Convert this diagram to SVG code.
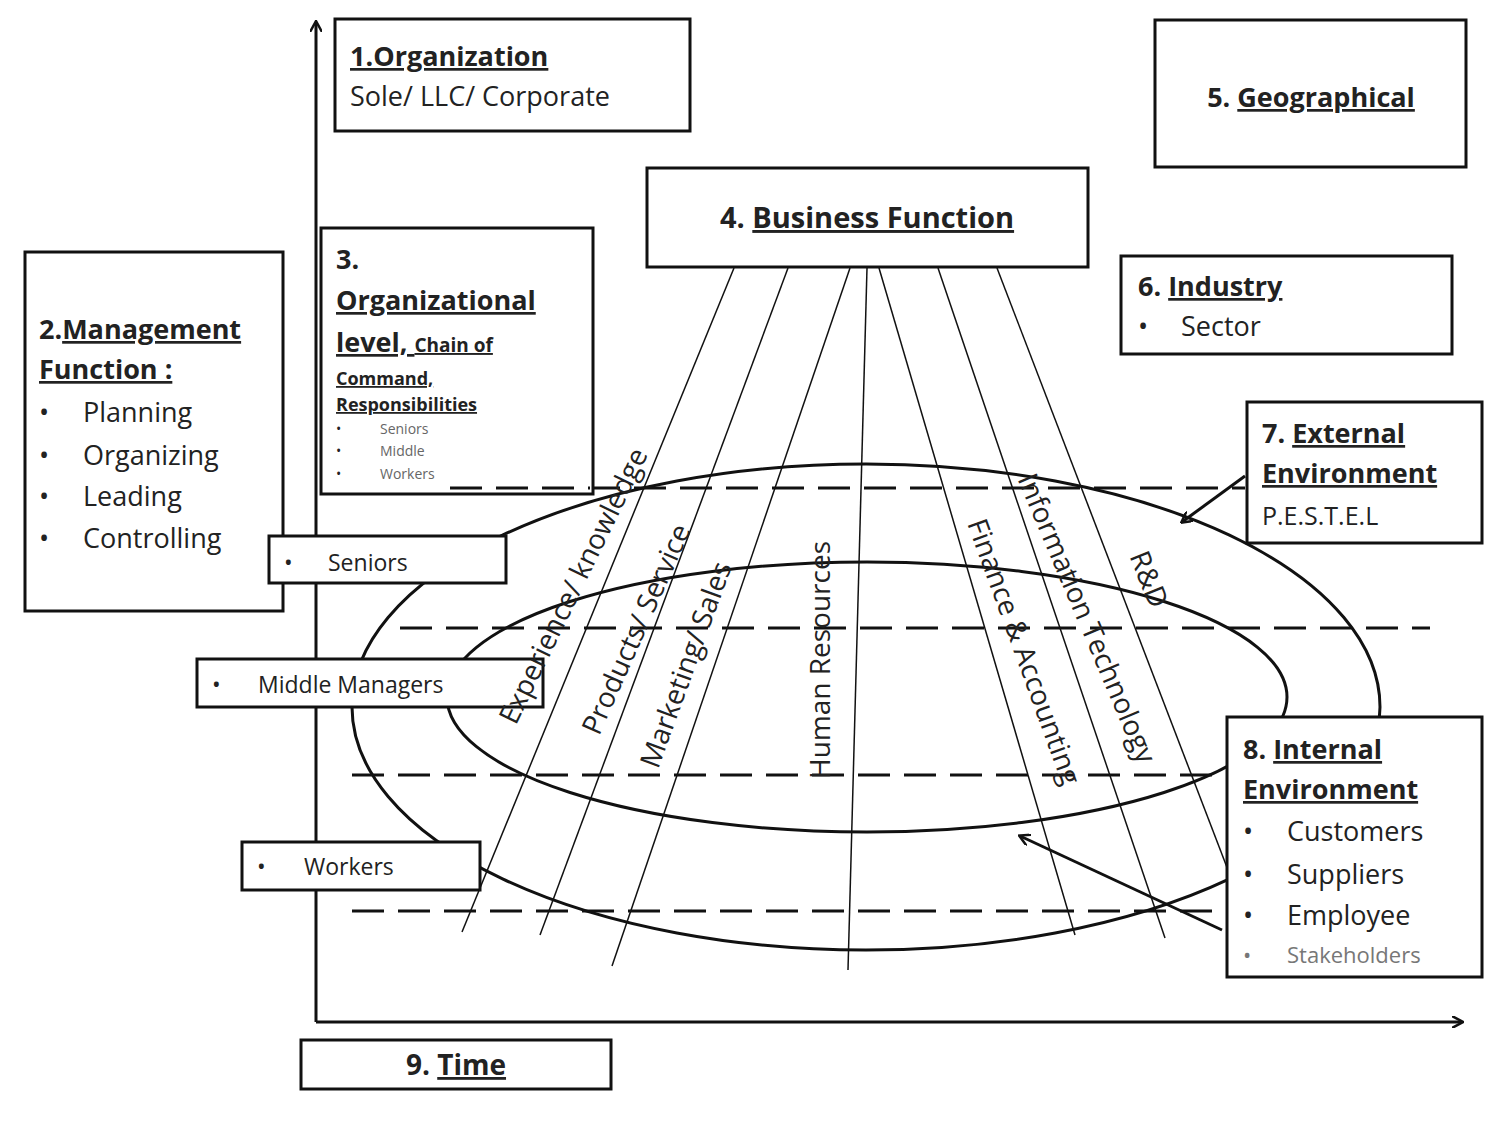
<svg xmlns="http://www.w3.org/2000/svg" width="1508" height="1135" viewBox="0 0 1508 1135">
<defs>
<marker id="ah" markerWidth="12" markerHeight="12" refX="10" refY="6" orient="auto" markerUnits="userSpaceOnUse"><path d="M0,0 L11,6 L0,12" fill="none" stroke="#111" stroke-width="2.5"/></marker>
<style>
text{font-family:"Open Sans","Liberation Sans",sans-serif;fill:#222}
.b{font-weight:bold}
.u{text-decoration:underline}
.box{fill:#fff;stroke:#111;stroke-width:3}
.ln{stroke:#111;stroke-width:1.5;fill:none}
.ds{stroke:#111;stroke-width:3;stroke-dasharray:32,14;fill:none}
.el{stroke:#111;stroke-width:3;fill:none}
.rt{font-size:28px}
</style>
</defs>
<rect width="1508" height="1135" fill="#fff"/>
<g id="connectors">
<line x1="316" y1="1022" x2="316" y2="22" stroke="#111" stroke-width="3" marker-end="url(#ah)"/>
<line x1="316" y1="1022" x2="1462" y2="1022" stroke="#111" stroke-width="3" marker-end="url(#ah)"/>
<ellipse class="el" cx="866" cy="707" rx="514" ry="243"/>
<ellipse class="el" cx="867" cy="697" rx="420" ry="135"/>
<line class="ln" x1="734" y1="268" x2="462" y2="932"/>
<line class="ln" x1="788" y1="268" x2="540" y2="935"/>
<line class="ln" x1="850" y1="268" x2="612" y2="966"/>
<line class="ln" x1="867" y1="268" x2="848" y2="970"/>
<line class="ln" x1="879" y1="268" x2="1075" y2="935"/>
<line class="ln" x1="938" y1="268" x2="1165" y2="938"/>
<line class="ln" x1="997" y1="268" x2="1228" y2="870"/>
<line class="ds" x1="450" y1="488" x2="1245" y2="488"/>
<line class="ds" x1="400" y1="628" x2="1430" y2="628"/>
<line class="ds" x1="352" y1="775" x2="1225" y2="775"/>
<line class="ds" x1="352" y1="911" x2="1225" y2="911"/>
<line x1="1245" y1="476" x2="1182" y2="522" stroke="#111" stroke-width="3" marker-end="url(#ah)"/>
<line x1="1222" y1="930" x2="1020" y2="836" stroke="#111" stroke-width="3" marker-end="url(#ah)"/>
</g>
<g id="n1"><rect class="box" x="335" y="19" width="355" height="112"/>
<text x="350" y="66" font-size="27" class="b u">1.Organization</text>
<text x="350" y="106" font-size="27">Sole/ LLC/ Corporate</text></g>
<g id="n5"><rect class="box" x="1155" y="20" width="311" height="147"/>
<text x="1311" y="107" font-size="27" text-anchor="middle" class="b">5. <tspan class="u">Geographical</tspan></text></g>
<g id="n4"><rect class="box" x="647" y="168" width="441" height="99"/>
<text x="867" y="228" font-size="29" text-anchor="middle" class="b">4. <tspan class="u">Business Function</tspan></text></g>
<g id="n6"><rect class="box" x="1121" y="256" width="331" height="98"/>
<text x="1138" y="296" font-size="27" class="b">6. <tspan class="u">Industry</tspan></text>
<text x="1138" y="336" font-size="27">•</text><text x="1181" y="336" font-size="27">Sector</text></g>
<g id="n7"><rect class="box" x="1247" y="402" width="235" height="141"/>
<text x="1262" y="443" font-size="27" class="b">7. <tspan class="u">External</tspan></text>
<text x="1262" y="483" font-size="27" class="b u">Environment</text>
<text x="1262" y="525" font-size="25">P.E.S.T.E.L</text></g>
<g id="n8"><rect class="box" x="1227" y="717" width="255" height="260"/>
<text x="1243" y="759" font-size="27" class="b">8. <tspan class="u">Internal</tspan></text>
<text x="1243" y="799" font-size="27" class="b u">Environment</text>
<text x="1243" y="841" font-size="27">•</text><text x="1287" y="841" font-size="27">Customers</text>
<text x="1243" y="884" font-size="27">•</text><text x="1287" y="884" font-size="27">Suppliers</text>
<text x="1243" y="925" font-size="27">•</text><text x="1287" y="925" font-size="27">Employee</text>
<text x="1243" y="963" font-size="22" style="fill:#777">•</text><text x="1287" y="963" font-size="22" style="fill:#777">Stakeholders</text></g>
<g id="n2"><rect class="box" x="25" y="252" width="258" height="359"/>
<text x="39" y="339" font-size="27" class="b">2.<tspan class="u">Management</tspan></text>
<text x="39" y="379" font-size="27" class="b u">Function :</text>
<text x="39" y="422" font-size="27">•</text><text x="83" y="422" font-size="27">Planning</text>
<text x="39" y="465" font-size="27">•</text><text x="83" y="465" font-size="27">Organizing</text>
<text x="39" y="506" font-size="27">•</text><text x="83" y="506" font-size="27">Leading</text>
<text x="39" y="548" font-size="27">•</text><text x="83" y="548" font-size="27">Controlling</text></g>
<g id="n3"><rect class="box" x="321" y="228" width="272" height="266"/>
<text x="336" y="269" font-size="27" class="b">3.</text>
<text x="336" y="310" font-size="27" class="b u">Organizational</text>
<text x="336" y="352" font-size="27" class="b u">level, <tspan font-size="19">Chain of</tspan></text>
<text x="336" y="385" font-size="18" class="b u">Command,</text>
<text x="336" y="411" font-size="18" class="b u">Responsibilities</text>
<text x="336" y="434" font-size="14">•</text><text x="380" y="434" font-size="14" style="fill:#666">Seniors</text>
<text x="336" y="456" font-size="14">•</text><text x="380" y="456" font-size="14" style="fill:#666">Middle</text>
<text x="336" y="479" font-size="14">•</text><text x="380" y="479" font-size="14" style="fill:#666">Workers</text></g>
<line class="ds" x1="450" y1="488" x2="590" y2="488"/>
<g id="seniors"><rect class="box" x="269" y="536" width="237" height="47"/>
<text x="284" y="571" font-size="23">•</text><text x="328" y="571" font-size="23">Seniors</text></g>
<g id="middle"><rect class="box" x="197" y="659" width="346" height="48"/>
<text x="212" y="693" font-size="23">•</text><text x="258" y="693" font-size="23">Middle Managers</text></g>
<g id="workers"><rect class="box" x="242" y="842" width="238" height="48"/>
<text x="257" y="875" font-size="23">•</text><text x="304" y="875" font-size="23">Workers</text></g>
<g id="n9"><rect class="box" x="301" y="1040" width="310" height="49"/>
<text x="456" y="1075" font-size="28" text-anchor="middle" class="b">9. <tspan class="u">Time</tspan></text></g>
<g id="labels">
<text class="rt" transform="translate(582,590) rotate(-64)" text-anchor="middle">Experience/ knowledge</text>
<text class="rt" transform="translate(645,633) rotate(-66)" text-anchor="middle">Products/ Service</text>
<text class="rt" transform="translate(695,668) rotate(-70)" text-anchor="middle">Marketing/ Sales</text>
<text class="rt" transform="translate(830,660) rotate(-90)" text-anchor="middle">Human Resources</text>
<text class="rt" transform="translate(1015,655) rotate(70)" text-anchor="middle">Finance &amp; Accounting</text>
<text class="rt" transform="translate(1078,622) rotate(67)" text-anchor="middle">Information Technology</text>
<text class="rt" transform="translate(1140,583) rotate(68)" text-anchor="middle">R&amp;D</text>
</g>
</svg>
